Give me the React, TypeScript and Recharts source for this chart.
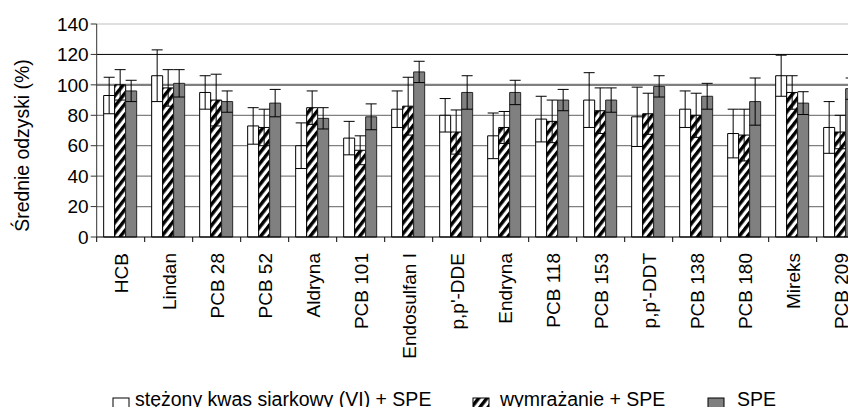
import React from 'react';
import { BarChart, Bar, XAxis, YAxis, CartesianGrid, ErrorBar, Legend, Label } from 'recharts';

const categories = [
  'HCB', 'Lindan', 'PCB 28', 'PCB 52', 'Aldryna', 'PCB 101', 'Endosulfan I', "p,p'-DDE",
  'Endryna', 'PCB 118', 'PCB 153', "p,p'-DDT", 'PCB 138', 'PCB 180', 'Mireks', 'PCB 209',
];
const acidValues = [93, 106, 95, 73, 60, 65, 84, 80, 66.5, 77.5, 90, 79, 84, 68, 106, 72];
const acidErrors = [12, 17, 11, 12, 15, 11, 12, 11, 15, 15, 18, 19.5, 12, 16, 13.5, 17];
const freezeValues = [100, 98, 90, 72, 85, 57, 86, 69, 72, 76, 83, 81, 80, 67, 95, 69];
const freezeErrors = [10, 12, 17, 12, 11, 9.5, 19, 14.5, 10.5, 14, 15, 13.5, 14.5, 17, 11, 11];
const speValues = [96, 101, 89, 88, 78, 79, 108.5, 95, 95, 90, 90, 99, 92.5, 89, 88, 97.5];
const speErrors = [7, 9, 7, 9, 7, 8.5, 7, 11, 8, 7, 8, 7, 8.5, 15.5, 7.5, 7];
const yTicks = [0, 20, 40, 60, 80, 100, 120, 140];
const seriesNames = ['stężony kwas siarkowy (VI) + SPE', 'wymrażanie + SPE', 'SPE'];
const yAxisTitle = 'Średnie odzyski (%)';

const data = categories.map((name, i) => ({
  name,
  acid: acidValues[i],
  acidErr: acidErrors[i],
  freeze: freezeValues[i],
  freezeErr: freezeErrors[i],
  spe: speValues[i],
  speErr: speErrors[i],
}));

const FONT = "'Liberation Sans', Arial, Helvetica, sans-serif";
const CHART_W = 880;
const CHART_H = 420;
const MARGIN = { top: 16, right: 23.3, left: 0, bottom: 51 };
const Y_AXIS_W = 88.7;
const X_AXIS_H = 140;
const PLOT_W = CHART_W - MARGIN.right - MARGIN.left - Y_AXIS_W;
const PLOT_H = CHART_H - MARGIN.top - MARGIN.bottom - X_AXIS_H;
const PLOT_BOTTOM = MARGIN.top + PLOT_H;
const Y_MAX = 140;

const gridStyle = (v: number) => {
  if (v >= 140) return { stroke: '#d4d4d4', strokeWidth: 1.5 };
  if (v === 120) return { stroke: '#000000', strokeWidth: 1 };
  if (v === 100) return { stroke: '#7f7f7f', strokeWidth: 2.2 };
  return { stroke: '#808080', strokeWidth: 1.2 };
};

const GridLine = (props: any) => {
  const { x1, x2, y1 } = props;
  const v = Math.round(((PLOT_BOTTOM - y1) / PLOT_H) * Y_MAX);
  if (v <= 0) return <g />;
  const s = gridStyle(v);
  return <line x1={x1} x2={x2} y1={y1} y2={y1} stroke={s.stroke} strokeWidth={s.strokeWidth} />;
};

const XTick = (props: any) => {
  const { x, payload } = props;
  const band = PLOT_W / categories.length;
  const bx = x - band / 2;
  const ty = PLOT_BOTTOM + 16;
  return (
    <g>
      <line x1={bx} x2={bx} y1={PLOT_BOTTOM} y2={PLOT_BOTTOM + 5} stroke="#000" strokeWidth={1} />
      <text
        x={x}
        y={ty}
        dy="0.36em"
        transform={`rotate(-90, ${x}, ${ty})`}
        textAnchor="end"
        fontFamily={FONT}
        fontSize={19}
        fill="#000"
      >
        {payload.value}
      </text>
    </g>
  );
};

const YTitle = () => {
  const cx = 21.2;
  const cy = 137.5;
  return (
    <text
      x={cx}
      y={cy}
      transform={`rotate(-90, ${cx}, ${cy})`}
      textAnchor="middle"
      fontFamily={FONT}
      fontSize={19.4}
      fill="#000"
    >
      {yAxisTitle}
    </text>
  );
};

const LegendContent = () => {
  const items = [
    { box: 105, text: 127, fill: '#ffffff' },
    { box: 465, text: 492, fill: 'url(#hatchLegend)' },
    { box: 700, text: 729, fill: '#808080' },
  ];
  return (
    <svg width={848} height={40} style={{ display: 'block' }}>
      <defs>
        <pattern id="hatchLegend" patternUnits="userSpaceOnUse" width="6.5" height="6.5" patternTransform="rotate(38)">
          <rect x="0" y="0" width="6.5" height="6.5" fill="#fff" />
          <rect x="0" y="0" width="3.4" height="6.5" fill="#000" />
        </pattern>
      </defs>
      {items.map((it, i) => (
        <g key={seriesNames[i]}>
          <rect x={it.box} y={23} width={16} height={13} fill={it.fill} stroke="#000" strokeWidth={1} />
          <text x={it.text} y={30.5} fontFamily={FONT} fontSize={19.5} fill="#000">
            {seriesNames[i]}
          </text>
        </g>
      ))}
    </svg>
  );
};

export default function App() {
  return (
    <div style={{ width: 848, height: 399, overflow: 'hidden', position: 'relative', background: '#fff' }}>
      <svg width={0} height={0} style={{ position: 'absolute' }}>
        <defs>
          <pattern id="hatch" patternUnits="userSpaceOnUse" width="6.5" height="6.5" patternTransform="rotate(38)">
            <rect x="0" y="0" width="6.5" height="6.5" fill="#fff" />
            <rect x="0" y="0" width="3.4" height="6.5" fill="#000" />
          </pattern>
        </defs>
      </svg>
      <BarChart
        width={CHART_W}
        height={CHART_H}
        data={data}
        margin={MARGIN}
        barCategoryGap="14.5%"
        barGap={0}
      >
        <CartesianGrid vertical={false} horizontal={GridLine as any} />
        <XAxis
          dataKey="name"
          height={X_AXIS_H}
          interval={0}
          tickLine={false}
          axisLine={{ stroke: '#000', strokeWidth: 1 }}
          tick={<XTick />}
        />
        <YAxis
          width={Y_AXIS_W}
          domain={[0, Y_MAX]}
          ticks={yTicks}
          interval={0}
          tickSize={6}
          tickMargin={2}
          tickLine={{ stroke: '#333' }}
          axisLine={{ stroke: '#333', strokeWidth: 1 }}
          tick={{ fontFamily: FONT, fontSize: 19, fill: '#000' }}
        >
          <Label content={<YTitle />} />
        </YAxis>
        <Legend
          layout="horizontal"
          verticalAlign="middle"
          align="center"
          wrapperStyle={{ position: 'absolute', left: 0, top: 367, width: 848, height: 40 }}
          content={<LegendContent />}
        />
        <Bar dataKey="acid" name={seriesNames[0]} fill="#ffffff" stroke="#000" strokeWidth={1} isAnimationActive={false}>
          <ErrorBar dataKey="acidErr" direction="y" width={5.5} stroke="#000" strokeWidth={1} />
        </Bar>
        <Bar dataKey="freeze" name={seriesNames[1]} fill="url(#hatch)" stroke="#000" strokeWidth={1} isAnimationActive={false}>
          <ErrorBar dataKey="freezeErr" direction="y" width={5.5} stroke="#000" strokeWidth={1} />
        </Bar>
        <Bar dataKey="spe" name={seriesNames[2]} fill="#808080" stroke="#262626" strokeWidth={1} isAnimationActive={false}>
          <ErrorBar dataKey="speErr" direction="y" width={5.5} stroke="#000" strokeWidth={1} />
        </Bar>
      </BarChart>
    </div>
  );
}
